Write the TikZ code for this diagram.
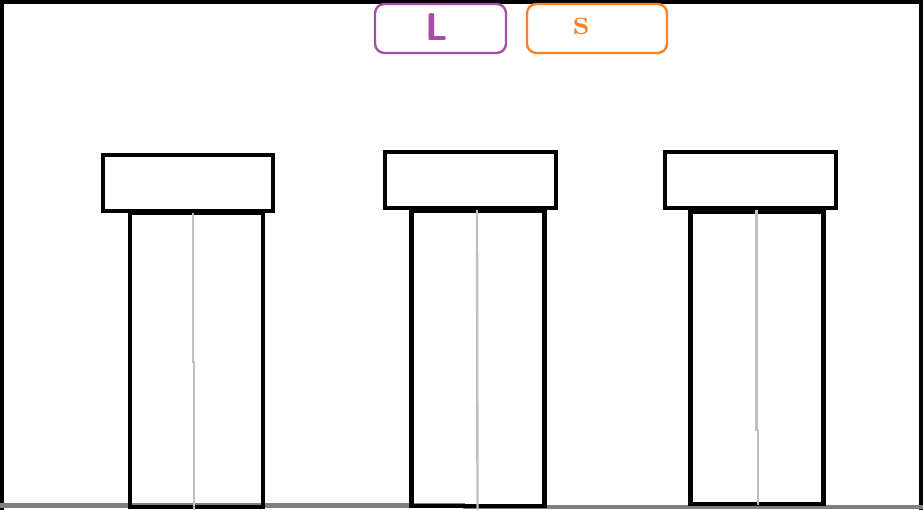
\documentclass[tikz,border=0pt]{standalone}
\usepackage{tikz}
\usetikzlibrary{positioning}
\tikzset{capbox/.style={draw,line width=3.4pt,minimum width=170*0.03cm,minimum height=56*0.03cm,inner sep=0},
 shaft/.style={draw,line width=3.6pt,minimum width=133*0.03cm,inner sep=0},
 axis/.style={draw=black!25,line width=2pt},
 ground/.style={draw=black!50,line width=4pt},
 tag/.style={rounded corners=8pt,line width=2pt,minimum width=131*0.03cm,minimum height=49*0.03cm,inner sep=0}}
\begin{document}
\begin{tikzpicture}[x=0.03cm,y=-0.03cm]
\useasboundingbox(0,0)rectangle(923,510);
\fill[white](0,0)rectangle(923,510);
\draw[line width=7pt](0,510)--(0,0)--(923,0)--(923,510);
\draw[ground](0,505.5)--(465,505.5);\draw[ground](463,507)--(923,507);
% tags
\node[tag,draw={rgb,255:red,166;green,77;blue,166},text={rgb,255:red,166;green,77;blue,166}](tagL)at(440.5,28.5){};
\node[text={rgb,255:red,166;green,77;blue,166},font=\sffamily\bfseries\fontsize{33}{33}\selectfont,inner sep=0](letterL)at(436.5,27){L};
\node[tag,draw={rgb,255:red,255;green,127;blue,39},minimum width=140*0.03cm](tagS)at(597,28.5){};
\node[text={rgb,255:red,255;green,127;blue,39},font=\bfseries\fontsize{31}{31}\selectfont,inner sep=0,anchor=base](letterS)at(581.5,35){s};
% pillars
\node[shaft,minimum height=294*0.03cm,anchor=north](body1)at(196.5,211){};\node[capbox](cap1)at(188,183){};
\node[shaft,minimum height=295*0.03cm,anchor=north](body2)at(478,209){};\node[capbox,minimum width=171*0.03cm](cap2)at(470.5,180){};
\node[shaft,minimum height=292*0.03cm,anchor=north](body3)at(757,210){};\node[capbox,minimum width=171*0.03cm](cap3)at(750.5,180){};
\coordinate(foot1)at(194,510);\coordinate(foot2)at(477.5,510);\coordinate(foot3)at(758,505);
\draw[axis](cap1.south-|193,0)--(193,362)--(194,362)--(foot1);
\draw[axis](cap2.south-|477,0)--(foot2);
\draw[axis](cap3.south-|756.5,0)--(756.5,430)--(758,430)--(foot3);
\end{tikzpicture}
\end{document}
